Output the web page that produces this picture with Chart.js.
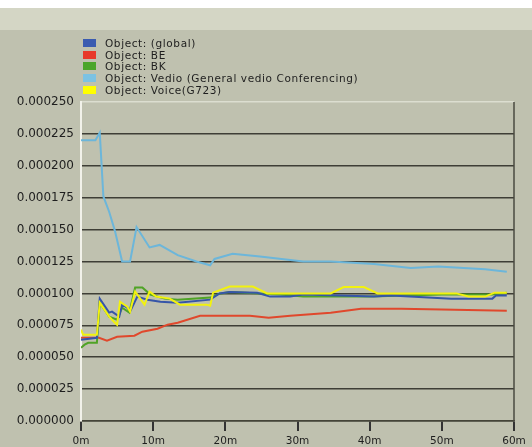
<!DOCTYPE html>
<html>
<head>
<meta charset="utf-8">
<script src="https://cdn.jsdelivr.net/npm/chart.js@4"></script>
<style>
  html, body { margin: 0; padding: 0; }
  body {
    width: 532px; height: 447px; overflow: hidden; position: relative;
    background: linear-gradient(#ffffff 0, #ffffff 8px, #d4d6c5 8px, #d4d6c5 30px, #bfc1af 30px);
    font-family: "DejaVu Sans", sans-serif;
  }
  #wrap { position: absolute; left: 0; top: 0; width: 532px; height: 447px; }
  #legend { position: absolute; left: 83px; top: 38px; font-size: 10.5px; letter-spacing: 0.6px; color: #1e1e1e; }
  #legend div { height: 11.7px; line-height: 11.7px; white-space: nowrap; }
  #legend span { display: inline-block; width: 13px; height: 8px; margin-right: 9px; vertical-align: 0px; }
</style>
</head>
<body>
<div id="wrap"><canvas id="lineChart" width="532" height="447"></canvas></div>
<div id="legend"></div>
<script>
// series names and colours
const names = ['Object: (global)', 'Object: BE', 'Object: BK', 'Object: Vedio (General vedio Conferencing)', 'Object: Voice(G723)'];
const colors = ['#3655a8', '#e0482c', '#4fa326', '#6cb6da', '#f2f20e'];
const legendColors = ['#3a5bb0', '#e8392a', '#4aa52a', '#7cc2e2', '#ffff00'];

// time (minutes) and value samples for each series
const globalT = [0, 2.2, 2.6, 3.9, 4.3, 5.3, 5.7, 6.4, 6.8, 7.8, 9.2, 11, 13.4, 17.9, 19.2, 20.6, 24.4, 26.2, 29, 30.8, 40.6, 43, 51.3, 57, 57.5, 59];
const globalV = [0.0000637, 0.0000652, 0.0000959, 0.0000849, 0.0000857, 0.0000818, 0.0000912, 0.0000888, 0.0000857, 0.0000975, 0.0000951, 0.0000935, 0.0000927, 0.0000951, 0.0001, 0.000101, 0.0001005, 0.0000975, 0.0000975, 0.0000991, 0.0000975, 0.0000983, 0.0000959, 0.0000959, 0.0000983, 0.0000983];

const beT = [0, 2.5, 3.6, 5, 7.4, 8.5, 10.6, 12, 13.4, 16.5, 23.4, 26, 29, 34.6, 38.8, 44.4, 50, 59];
const beV = [0.0000652, 0.0000652, 0.0000629, 0.000066, 0.0000668, 0.00007, 0.0000723, 0.0000755, 0.000077, 0.0000825, 0.0000825, 0.000081, 0.0000825, 0.0000849, 0.000088, 0.000088, 0.0000873, 0.0000865];

const bkT = [0, 0.5, 1, 2.2, 2.6, 3.9, 5, 5.7, 6.7, 7.5, 8.5, 9.6, 11.6, 13.4, 17.9, 19.2, 20.6, 27.6, 30.8, 40, 50, 57, 59];
const bkV = [0.0000574, 0.0000598, 0.0000613, 0.0000613, 0.0000927, 0.0000818, 0.0000794, 0.0000888, 0.0000849, 0.0001046, 0.0001046, 0.0000991, 0.0000959, 0.0000951, 0.0000967, 0.0000998, 0.000101, 0.0000991, 0.0000975, 0.0000975, 0.0000991, 0.0000991, 0.0001006];

const vedioT = [0, 2.0, 2.6, 3.1, 3.9, 4.7, 5.7, 6.8, 7.7, 9.5, 10.9, 13.4, 16, 17.9, 18.5, 21, 24.8, 30.8, 34.6, 40.6, 45.7, 49.5, 56, 59];
const vedioV = [0.00022, 0.00022, 0.000226, 0.000176, 0.000164, 0.000149, 0.000125, 0.000125, 0.000152, 0.000136, 0.000138, 0.00013, 0.000125, 0.000122, 0.000127, 0.000131, 0.000129, 0.000125, 0.000125, 0.000123, 0.00012, 0.000121, 0.000119, 0.000117];

const voiceT = [0, 0.3, 2.2, 2.6, 3.9, 4.7, 5, 5.4, 6.4, 6.8, 7.5, 8.8, 9.5, 10.4, 12.3, 13.7, 17.4, 17.9, 18.3, 20.6, 23.8, 25.8, 34.6, 36.4, 39.2, 41.1, 52, 53.7, 56, 57.3, 59];
const voiceV = [0.0000715, 0.0000676, 0.0000676, 0.0000927, 0.0000818, 0.000077, 0.0000755, 0.0000935, 0.0000896, 0.0000857, 0.0001014, 0.0000912, 0.0001014, 0.0000975, 0.0000959, 0.0000912, 0.0000912, 0.0000904, 0.0001006, 0.0001054, 0.0001054, 0.0001, 0.0001, 0.000105, 0.000105, 0.0001, 0.0001, 0.0000975, 0.0000975, 0.0001006, 0.0001006];

// axis ticks
const xTicks = [0, 10, 20, 30, 40, 50, 60];
const yTicks = [0, 0.000025, 0.00005, 0.000075, 0.0001, 0.000125, 0.00015, 0.000175, 0.0002, 0.000225, 0.00025];

const series = [[globalT, globalV], [beT, beV], [bkT, bkV], [vedioT, vedioV], [voiceT, voiceV]];

const toPoints = (t, v) => t.map((x, i) => ({ x: x, y: v[i] }));

// html legend, stacked top-left
const legend = document.getElementById('legend');
names.forEach((n, i) => {
    const row = document.createElement('div');
    row.innerHTML = '<span style="background:' + legendColors[i] + '"></span>' + n;
    legend.appendChild(row);
});

// right-hand frame line
const frame = {
    id: 'frame',
    beforeDatasetsDraw(chart) {
        const a = chart.chartArea, c = chart.ctx;
        c.save();
        c.strokeStyle = '#4a4a40';
        c.lineWidth = 1.5;
        c.beginPath();
        c.moveTo(a.right, a.top);
        c.lineTo(a.right, a.bottom);
        c.stroke();
        c.restore();
    }
};

const ctx = document.getElementById('lineChart').getContext('2d');

new Chart(ctx, {
    type: 'line',
    data: {
        datasets: series.map((s, i) => ({
            label: names[i],
            data: toPoints(s[0], s[1]),
            borderColor: colors[i],
            borderWidth: 2,
            pointRadius: 0,
            fill: false,
            tension: 0,
            order: [1, 4, 2, 5, 0][i]
        }))
    },
    options: {
        responsive: false,
        animation: false,
        events: [],
        layout: { padding: { left: 0, right: 18, top: 102, bottom: 0 } },
        plugins: {
            legend: { display: false },
            tooltip: { enabled: false }
        },
        scales: {
            x: {
                type: 'linear',
                min: 0,
                max: 60,
                afterBuildTicks: (s) => { s.ticks = xTicks.map(v => ({ value: v })); },
                afterFit: (s) => { s.height = 26; },
                ticks: {
                    callback: (v) => v + 'm',
                    color: '#1e1e1e',
                    padding: 4,
                    font: { family: 'DejaVu Sans', size: 10.5 },
                    maxRotation: 0
                },
                grid: { drawOnChartArea: false, tickLength: 10, color: '#333', lineWidth: 2 },
                border: { color: '#444438', width: 1.5 }
            },
            y: {
                min: 0,
                max: 0.00025,
                afterBuildTicks: (s) => { s.ticks = yTicks.map(v => ({ value: v })); },
                afterFit: (s) => { s.width = 81; },
                ticks: {
                    callback: (v) => v.toFixed(6),
                    color: '#1e1e1e',
                    padding: 7,
                    font: { family: 'DejaVu Sans', size: 12 }
                },
                grid: {
                    drawTicks: false,
                    color: (c) => c.tick && c.tick.value >= 0.00025 ? '#dcded0' : '#3e3e36',
                    lineWidth: 1.5
                },
                border: { color: '#f2f2ea', width: 2 }
            }
        }
    },
    plugins: [frame]
});
</script>
</body>
</html>
